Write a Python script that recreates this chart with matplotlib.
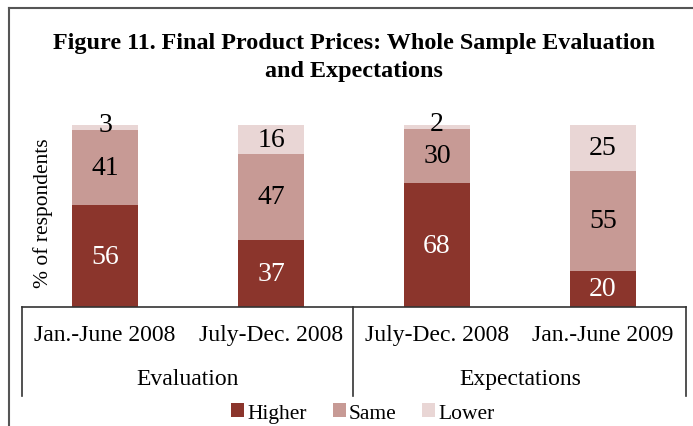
import numpy as np
import matplotlib.pyplot as plt
from matplotlib.lines import Line2D
from matplotlib.patches import Patch

periods = ['Jan.-June 2008', 'July-Dec. 2008', 'July-Dec. 2008', 'Jan.-June 2009']
groups = ['Evaluation', 'Expectations']
higher = [56, 37, 68, 20]
same = [41, 47, 30, 55]
lower = [3, 16, 2, 25]

series = [('Higher', higher, '#8b352c', 'white'),
          ('Same', same, '#c79a95', 'black'),
          ('Lower', lower, '#e9d6d5', 'black')]

plt.rcParams['font.family'] = ['Liberation Serif', 'DejaVu Serif']

W, H = 693, 427
fig = plt.figure(figsize=(W / 100, H / 100), dpi=100)
ax = fig.add_axes([22 / W, (H - 308) / H, 664 / W, 182 / H])

x = np.arange(len(periods))
bottom = np.zeros(len(periods))
for name, vals, color, tcolor in series:
    vals = np.array(vals, dtype=float)
    ax.bar(x, vals, width=0.4, bottom=bottom, color=color, label=name)
    for xi, b, v in zip(x, bottom, vals):
        ypos = b + v / 2
        if v < 5:
            # tiny segment: label sits on top of it
            ypos = b + v / 2 + 2
        ax.text(xi, ypos, f'{int(v)}', ha='center', va='center',
                color=tcolor, fontsize=20)
    bottom += vals

ax.set_xlim(-0.5, len(periods) - 0.5)
ax.set_ylim(0, 100)
ax.set_yticks([])
for s in ['top', 'right', 'left']:
    ax.spines[s].set_visible(False)
ax.spines['bottom'].set_color('#333333')
ax.spines['bottom'].set_linewidth(1.2)
ax.set_xticks(x)
ax.set_xticklabels(periods, fontsize=17)
ax.tick_params(axis='x', length=0, pad=12)
ax.set_ylabel('% of respondents', fontsize=15.5)
ax.yaxis.set_label_coords(31 / 664, 0.52)

# group labels under the period labels
for gi, g in enumerate(groups):
    fig.text((22 + 332 * gi + 166) / W, 1 - 380 / H, g,
             ha='center', va='center', fontsize=17)

# table lines
for xp in [22, 353, 686]:
    fig.add_artist(Line2D([xp / W, xp / W], [1 - 308 / H, 1 - 397 / H],
                          color='#333333', lw=1.2))

# outer frame
fig.add_artist(Line2D([9 / W, 1], [1 - 9 / H, 1 - 9 / H], color='#555555', lw=1.5))
fig.add_artist(Line2D([9 / W, 9 / W], [1 - 9 / H, 0], color='#555555', lw=1.5))

fig.text(354 / W, 1 - 43 / H, 'Figure 11. Final Product Prices: Whole Sample Evaluation',
         ha='center', va='center', fontsize=17.4, fontweight='bold')
fig.text(354 / W, 1 - 71 / H, 'and Expectations',
         ha='center', va='center', fontsize=17.4, fontweight='bold')

handles = [Patch(facecolor=c, label=n) for n, _, c, _ in series]
fig.legend(handles=handles, loc='center', bbox_to_anchor=(363 / W, 1 - 414 / H),
           ncol=3, frameon=False, fontsize=15.5, handlelength=0.6, handleheight=0.6,
           handletextpad=0.15, columnspacing=1.2, borderpad=0)

fig.savefig('out.png', dpi=100)
